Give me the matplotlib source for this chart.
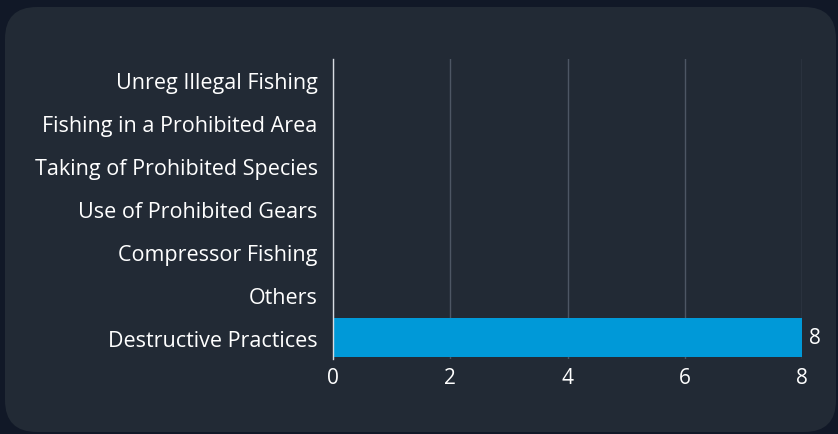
import matplotlib
matplotlib.use("Agg")
import matplotlib.pyplot as plt
from matplotlib.patches import FancyBboxPatch

categories = ["Destructive Practices", "Others", "Compressor Fishing",
              "Use of Prohibited Gears", "Taking of Prohibited Species",
              "Fishing in a Prohibited Area", "Unreg Illegal Fishing"]
values = [8, 0, 0, 0, 0, 0, 0]
xticks = [0, 2, 4, 6, 8]

W, H = 838, 435
fig = plt.figure(figsize=(W / 100, H / 100), dpi=100)
fig.patch.set_facecolor("#111827")

card = FancyBboxPatch((5 / W, 2 / H), (831 / W), (425 / H),
                      boxstyle="round,pad=0,rounding_size=0.038",
                      transform=fig.transFigure, facecolor="#222a35",
                      edgecolor="none", mutation_aspect=W / H, zorder=-10)
fig.patches.append(card)

ax = fig.add_axes([333 / W, 1 - 360 / H, (802 - 333) / W, (360 - 60) / H])
ax.set_facecolor("none")
ax.set_zorder(5)

ypos = list(range(len(categories)))
bars = ax.barh(ypos, values, height=0.91, color="#0099d8", zorder=3)
for y, v in zip(ypos, values):
    if v > 0:
        ax.text(v + 0.12, y, str(v), va="center", ha="left", color="white",
                fontsize=15, family="Open Sans")

ax.set_xlim(0, 8)
ax.set_ylim(-0.5, len(categories) - 0.5)
ax.set_xticks(xticks)
ax.set_xticklabels([str(t) for t in xticks], family="Open Sans", fontsize=15, color="white")
ax.set_yticks(ypos)
ax.set_yticklabels(categories, family="Open Sans", fontsize=15.5, color="white")
ax.tick_params(axis="both", length=0)
ax.tick_params(axis="y", pad=11)
ax.tick_params(axis="x", pad=6)

for s in ["top", "right", "bottom"]:
    ax.spines[s].set_visible(False)
ax.spines["left"].set_color("#d8dce2")
ax.spines["left"].set_linewidth(1)
ax.spines["left"].set_zorder(4)

ax.grid(axis="x", color="#4d5664", linewidth=1, zorder=1)
ax.grid(axis="y", visible=False)

fig.savefig("out.png", dpi=100, facecolor=fig.get_facecolor())
